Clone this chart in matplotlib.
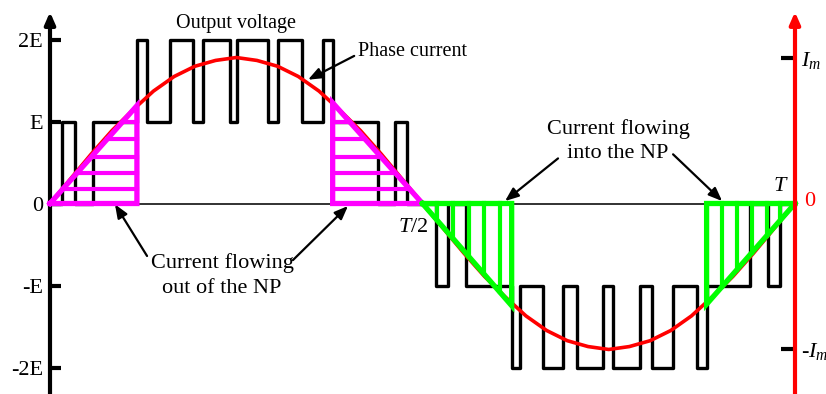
import matplotlib.pyplot as plt
import numpy as np

plt.rcParams['font.family'] = ['Liberation Serif', 'DejaVu Serif']
plt.rcParams['mathtext.fontset'] = 'custom'
plt.rcParams['mathtext.rm'] = 'Liberation Serif'
plt.rcParams['mathtext.it'] = 'Liberation Serif:italic'

# output voltage: switching angles (deg) and the level (in E) held after each one
switch_deg = [0, 5.7, 12.1, 20.8, 42.0, 46.9, 58.0, 69.1, 73.9, 87.0, 90.4,
              105.3, 110.2, 121.8, 131.9, 136.6, 158.5, 166.7, 172.4,
              186.5, 192.5, 200.9, 223.1, 227.1, 238.4, 248.0, 254.5, 267.4,
              272.2, 285.1, 290.8, 301.2, 312.5, 317.3, 338.3, 347.1, 352.8, 360]
voltage_level = [0, 1, 0, 1, 2, 1, 2, 1, 2, 1, 2, 1, 2, 1, 2, 1, 0, 1,
                 0, -1, 0, -1, -2, -1, -2, -1, -2, -1, -2, -1, -2, -1, -2, -1, 0, -1, 0]

# phase current every 10 deg, per unit of Im
current_deg = np.arange(0, 361, 10)
current_pu = [0, 0.17, 0.34, 0.50, 0.64, 0.77, 0.87, 0.94, 0.98, 1.00,
              0.98, 0.94, 0.87, 0.77, 0.64, 0.50, 0.34, 0.17, 0,
              -0.17, -0.34, -0.50, -0.64, -0.77, -0.87, -0.94, -0.98, -1.00,
              -0.98, -0.94, -0.87, -0.77, -0.64, -0.50, -0.34, -0.17, 0]

# NP current regions: (zero crossing, switching edge, current at the edge)
np_out = [(0, 42.0, 0.67), (180, 136.6, 0.69)]
np_in = [(180, 223.1, -0.70), (360, 317.3, -0.69)]
out_hatch_pu = [0.10, 0.21, 0.32, 0.44, 0.56]
in_hatch_deg = [[187.0, 194.7, 202.4, 209.7, 217.4],
                [324.6, 331.8, 339.1, 346.3, 352.8]]

y_ticks = [-2, -1, 0, 1, 2]
y_labels = ['-2E', '-E', '0', 'E', '2E']

MAGENTA = '#ff00ff'
GREEN = '#00ff00'

fig = plt.figure(figsize=(8.26, 3.94), dpi=100)
ax = fig.add_axes([0, 0, 1, 1])
ax.set_xlim(-24.16, 375.0)
ax.set_ylim(-2.323, 2.482)
ax2 = ax.twinx()
ax2.set_ylim(-1.305, 1.394)

# voltage axis
ax.spines[['top', 'right']].set_visible(False)
ax.spines['left'].set_position(('data', 0))
ax.spines['left'].set_linewidth(3)
ax.spines['left'].set_bounds(-2.4, 2.25)
ax.spines['bottom'].set_position(('data', 0))
ax.spines['bottom'].set_linewidth(1.3)
ax.spines['bottom'].set_color('#222222')
ax.spines['bottom'].set_bounds(0, 360)
ax.set_xticks([])
ax.set_yticks(y_ticks, labels=y_labels)
ax.tick_params(axis='y', direction='in', length=8, width=3, labelsize=16, pad=5)
ax.annotate('', xy=(0, 2.335), xytext=(0, 2.2),
            arrowprops=dict(arrowstyle='-|>,head_length=0.5,head_width=0.22',
                            lw=3, color='black', shrinkA=0, shrinkB=0,
                            mutation_scale=14))

# current axis
ax2.spines[['top', 'bottom', 'left']].set_visible(False)
ax2.spines['right'].set_position(('data', 360))
ax2.spines['right'].set_color('red')
ax2.spines['right'].set_linewidth(3)
ax2.spines['right'].set_bounds(-1.4, 1.25)
ax2.set_yticks([-1, 1], labels=['-$I_m$', '$I_m$'])
ax2.tick_params(axis='y', direction='in', length=10, width=3, color='black',
                labelsize=16, pad=4)
ax2.annotate('', xy=(360, 1.312), xytext=(360, 1.23),
             arrowprops=dict(arrowstyle='-|>,head_length=0.5,head_width=0.22',
                             lw=3, color='red', shrinkA=0, shrinkB=0,
                             mutation_scale=14))

# waveforms
ax.plot(switch_deg, voltage_level + [voltage_level[-1]], drawstyle='steps-post',
        color='black', lw=2.4)
ax2.plot(current_deg, current_pu, color='red', lw=2.6)

# current flowing out of the NP: horizontal hatching
for x0, xe, ie in np_out:
    ax2.plot([x0, xe, xe, x0], [0, ie, 0, 0], color=MAGENTA, lw=3.8,
             solid_joinstyle='miter')
    for h in out_hatch_pu:
        ax2.plot([x0 + (xe - x0) * h / ie, xe], [h, h], color=MAGENTA, lw=3)

# current flowing into the NP: vertical hatching
for (x0, xe, ie), hatch in zip(np_in, in_hatch_deg):
    ax2.plot([x0, xe, xe, x0], [0, ie, 0, 0], color=GREEN, lw=3.8,
             solid_joinstyle='miter')
    for x in hatch:
        ax2.plot([x, x], [0, ie * (x - x0) / (xe - x0)], color=GREEN, lw=3)

# labels and callouts
arrow = dict(arrowstyle='-|>,head_length=0.45,head_width=0.18', lw=1.6,
             color='black', shrinkA=0, shrinkB=0, mutation_scale=18)
ax.text(89.9, 2.20, 'Output voltage', ha='center', va='center', fontsize=14.5)
ax.text(148.8, 1.85, 'Phase current', ha='left', va='center', fontsize=14.5)
ax.annotate('', xy=(124.7, 1.51), xytext=(147.0, 1.80), arrowprops=arrow)

ax.text(274.5, 0.76, 'Current flowing\ninto the NP', ha='center', va='center',
        fontsize=16, linespacing=1.4)
ax.annotate('', xy=(219.9, 0.03), xytext=(245.5, 0.55), arrowprops=arrow)
ax.annotate('', xy=(324.8, 0.03), xytext=(301.1, 0.60), arrowprops=arrow)

ax.text(83.1, -0.88, 'Current flowing\nout of the NP', ha='center', va='center',
        fontsize=16, linespacing=1.4)
ax.annotate('', xy=(31.4, -0.01), xytext=(46.9, -0.64), arrowprops=arrow)
ax.annotate('', xy=(144.0, -0.03), xytext=(117.4, -0.69), arrowprops=arrow)

ax.text(175.5, -0.29, '$T/2$', ha='center', va='center', fontsize=16)
ax.text(353.3, 0.21, '$T$', ha='center', va='center', fontsize=16)
ax.text(364.3, 0.03, '0', ha='left', va='center', fontsize=16, color='red')

fig.savefig('out.png', dpi=100)
